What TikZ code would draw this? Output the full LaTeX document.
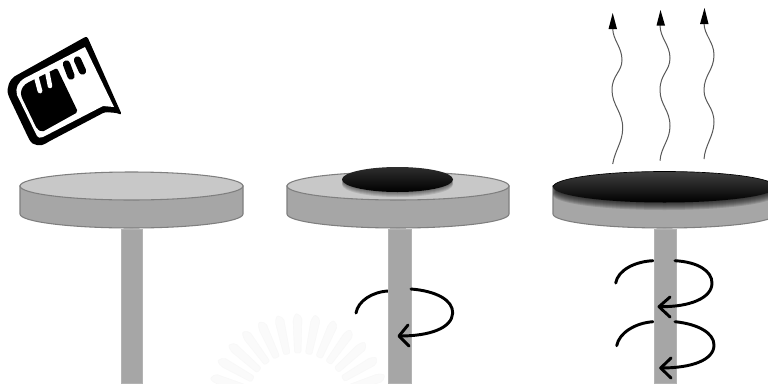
\documentclass[tikz,border=0pt]{standalone}
\begin{document}
\begin{tikzpicture}[x=0.75pt,y=-0.75pt,
  disctop/.style={fill=discTop,draw=discEdge,line width=0.8pt},
  discside/.style={fill=discSide,draw=discEdge,line width=0.8pt},
  pole/.style={fill=discSide,draw=discSide!85!white,line width=0.5pt},
  rot/.style={draw=black,line width=2.2pt,line cap=round,line join=round},
  wave/.style={draw=black!65,line width=0.75pt},
  ray/.style={fill=black!2,draw=black!3,line width=0.3pt,rounded corners=1.5pt}]
\definecolor{discTop}{HTML}{C8C8C8}
\definecolor{discSide}{HTML}{A6A6A6}
\definecolor{discEdge}{HTML}{7F7F7F}
\useasboundingbox (0,0) rectangle (768,383);
\clip (0,0) rectangle (768,383);
\fill[white] (0,0) rectangle (768,383);
% faint watermark rays
\foreach \a in {18,30,...,162}{
  \begin{scope}[shift={(298,405)},rotate=\a]
    \path[ray] (52,-3.5) -- (86,-5) -- (92,-2) -- (88,4) -- (52,3) -- cycle;
  \end{scope}
}
% memory card
\fill[black,rounded corners=2pt] (87,36) -- (122,115) -- (117,113) -- (105,112) -- (48,142)
  .. controls (42,146) and (33,147) .. (28,137) -- (9,97) .. controls (6,88) and (10,79) .. (17,75) -- cycle;
\fill[white] (85,47) -- (114,107) -- (103,106) -- (43,137)
  .. controls (40,138) and (38,138) .. (37,136) -- (17,95) .. controls (15,88) and (18,82) .. (25,78) -- cycle;
\fill[black,rounded corners=1.5pt] (57,68) -- (78,112) -- (42,132) -- (37,129) -- (22,98)
  .. controls (20,92) and (22,87) .. (27,83) -- cycle;
\draw[white,line width=3.6pt,line cap=round] (36,76) -- (40,91);
\draw[white,line width=3.4pt,line cap=round] (47,71) -- (50,86);
\draw[black,line width=5.5pt,line cap=round] (66.5,64) -- (71,76);
\draw[black,line width=5.5pt,line cap=round] (77.5,60) -- (82.5,71);
% disc 1
\path[discside] (20,186) -- (20,214) arc[start angle=180,end angle=0,x radius=111.5,y radius=14] -- (243,186) -- cycle;
\path[disctop] (131.5,186) ellipse[x radius=111.5,y radius=14];
\path[pole] (121,229) rectangle (142,383);
% disc 2
\path[discside] (287,186) -- (287,214) arc[start angle=180,end angle=0,x radius=111,y radius=14] -- (509,186) -- cycle;
\path[disctop] (398,186) ellipse[x radius=111,y radius=14];
\foreach \d in {1,2,3,4,5}{\fill[black,opacity=0.1] (397.5,179.5+\d) ellipse[x radius=55.5,y radius=12.5];}
\shade[top color=black!82,middle color=black,bottom color=black] (397.5,179.5) ellipse[x radius=55.5,y radius=12.5];
% rotation arrow on pole 2
\draw[rot] (356,313) .. controls (358,301) and (372,292) .. (388,291);
\path[pole] (388,229) rectangle (411,383);
\draw[rot] (411,289) .. controls (436,291) and (453,300) .. (452.7,313) .. controls (452,328) and (430,336) .. (400,336);
\draw[rot] (408,325) -- (399,336) -- (409,346);
% disc 3
\path[discside] (553,186) -- (553,214) arc[start angle=180,end angle=0,x radius=111.5,y radius=14] -- (776,186) -- cycle;
\foreach \d in {1,2,...,8}{\fill[black,opacity=0.12] (664.5,187+\d) ellipse[x radius=111.5,y radius=15];}
\shade[top color=black!75,middle color=black,bottom color=black] (664.5,187) ellipse[x radius=111.5,y radius=15.5];
\draw[black,line width=0.5pt] (553,187) arc[start angle=180,end angle=360,x radius=111.5,y radius=15.5];
% rotation arrows on pole 3
\draw[rot] (615.7,283) .. controls (618,270) and (635,261.5) .. (653,260.7);
\draw[rot] (616.7,345.7) .. controls (619,333) and (635,323) .. (653,321.7);
\path[pole] (654,229) rectangle (676,383);
\draw[rot] (675,260.7) .. controls (698,262) and (712,271) .. (712,283) .. controls (712,298) and (690,307) .. (660,306.7);
\draw[rot] (670,297) -- (659,306.7) -- (670,317);
\draw[rot] (675,321.7) .. controls (698,324) and (714,333) .. (714,345) .. controls (714,360) and (692,368) .. (661,368);
\draw[rot] (671,358) -- (660.7,368) -- (671,378);
% vapour lines
\draw[wave] (612.7,164) .. controls (615,150) and (622.7,142) .. (622.7,128) .. controls (622.7,112) and (612,105) .. (612,90) .. controls (612,75) and (622,72) .. (622,60) .. controls (622,47) and (612.7,40) .. (612.7,28);
\draw[wave] (660,160.7) .. controls (661,147) and (670,140) .. (670,126) .. controls (670,110) and (660,105) .. (660,90) .. controls (660,74) and (670,71) .. (670,58) .. controls (670,45) and (660,38) .. (660,25);
\draw[wave] (704,159) .. controls (705,145) and (714,136) .. (714,122) .. controls (714,107) and (704,103) .. (704,90) .. controls (704,75) and (714,70) .. (714,55) .. controls (714,42) and (704,35) .. (704,23);
\fill[black] (612.7,13) -- (617,29) -- (608.5,29) -- cycle;
\fill[black] (660.5,10) -- (665,25.5) -- (656.5,25.5) -- cycle;
\fill[black] (704.5,8) -- (708.5,24) -- (700,24) -- cycle;
\end{tikzpicture}
\end{document}
